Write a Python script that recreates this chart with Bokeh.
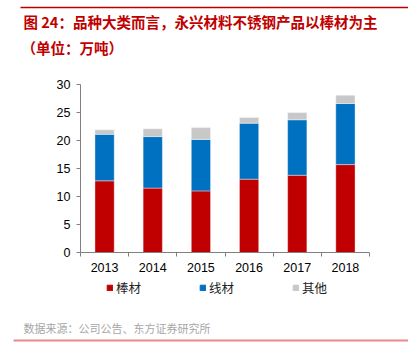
from bokeh.plotting import figure
from bokeh.layouts import column
from bokeh.models import (ColumnDataSource, FixedTicker, Legend, LegendItem, Range1d)
from bokeh.core.properties import value
from bokeh.embed import file_html
from bokeh.resources import INLINE

years = ["2013", "2014", "2015", "2016", "2017", "2018"]
bangcai = [12.8, 11.5, 11.0, 13.1, 13.8, 15.7]
xiancai = [8.3, 9.2, 9.2, 10.0, 9.9, 10.9]
qita = [0.8, 1.4, 2.1, 1.0, 1.3, 1.5]
series = ["棒材", "线材", "其他"]
colors = ["#C00000", "#0070C0", "#C8C8C8"]
yticks = [0, 5, 10, 15, 20, 25, 30]
title1 = "图 24：品种大类而言，永兴材料不锈钢产品以棒材为主"
title2 = "（单位：万吨）"
source_txt = "数据来源：公司公告、东方证券研究所"

W = 408
HEAD, MAIN = 60, 216
FOOT = 356 - HEAD - MAIN
FL, FR = 80, 369
FT, FB = 84 - HEAD, 252 - HEAD  # frame top/bottom inside main figure
FOOT0 = HEAD + MAIN
cjk = "Noto Sans CJK SC"
font = "Liberation Sans"


def blank(h):
    f = figure(width=W, height=h, output_backend="svg", toolbar_location=None,
               x_range=Range1d(0, W), y_range=Range1d(h, 0),
               x_axis_type=None, y_axis_type=None, frame_align=False,
               min_border_left=0, min_border_right=0,
               min_border_top=0, min_border_bottom=0)
    f.outline_line_color = None
    f.xgrid.grid_line_color = None
    f.ygrid.grid_line_color = None
    return f


# header
head = blank(HEAD)
head.segment(x0=[20], y0=[7], x1=[W], y1=[7], line_color="#C00000", line_width=1.5)
head.text(x=[23, 21], y=[21, 47], text=[title1, title2], text_font=value(cjk),
          text_font_size="14.5px", text_color="#C00000", text_font_style="bold",
          text_baseline="middle", text_align="left")

# main chart
xs = [i + 0.5 for i in range(len(years))]
src = ColumnDataSource(dict(x=xs, bangcai=bangcai, xiancai=xiancai, qita=qita))

p = figure(width=W, height=MAIN, output_backend="svg", toolbar_location=None,
           x_range=Range1d(0, len(years)), y_range=Range1d(0, 30), frame_align=False,
           min_border_left=FL, min_border_right=W - FR,
           min_border_top=FT, min_border_bottom=MAIN - FB)
p.outline_line_color = None
p.xgrid.grid_line_color = None
p.ygrid.grid_line_color = None

p.vbar_stack(["bangcai", "xiancai", "qita"], x="x", width=0.4, source=src,
             color=colors, line_color="white", line_width=0.4)

p.yaxis.ticker = FixedTicker(ticks=yticks)
p.yaxis.axis_line_color = "#808080"
p.yaxis.major_tick_line_color = "#808080"
p.yaxis.major_tick_out = 4
p.yaxis.major_tick_in = 0
p.yaxis.minor_tick_line_color = None
p.yaxis.major_label_text_font = font
p.yaxis.major_label_text_font_size = "12.5px"
p.yaxis.major_label_text_color = "black"
p.yaxis.major_label_standoff = 6

p.xaxis.ticker = FixedTicker(ticks=xs, minor_ticks=list(range(len(years) + 1)))
p.xaxis.major_label_overrides = {x: y for x, y in zip(xs, years)}
p.xaxis.axis_line_color = "#808080"
p.xaxis.major_tick_line_color = None
p.xaxis.minor_tick_line_color = "#808080"
p.xaxis.minor_tick_out = 4
p.xaxis.minor_tick_in = 0
p.xaxis.major_label_text_font = font
p.xaxis.major_label_text_font_size = "12.5px"
p.xaxis.major_label_text_color = "black"
p.xaxis.major_label_standoff = 4

# footer: legend, source, line
foot = blank(FOOT)
# hidden swatch renderers that only feed the legend
swatches = [foot.vbar(x=[0], top=[1], bottom=[0], width=1, color=c, visible=False)
            for c in colors]
legend = Legend(items=[LegendItem(label=s, renderers=[r]) for s, r in zip(series, swatches)],
                orientation="horizontal", location=(106, FOOT - (290 - FOOT0) - 7),
                glyph_width=7, glyph_height=7, label_standoff=3, spacing=58,
                padding=0, margin=0, border_line_color=None, background_fill_alpha=0,
                label_text_font=cjk, label_text_font_size="12.5px",
                label_text_color="#222222", label_height=14)
foot.add_layout(legend, "center")
foot.text(x=[23], y=[327 - FOOT0], text=[source_txt], text_font=value(cjk),
          text_font_size="11px", text_color="#A6A6A6",
          text_baseline="middle", text_align="left")
foot.segment(x0=[13], y0=[340 - FOOT0], x1=[W], y1=[340 - FOOT0],
             line_color="#E88A8A", line_width=2)

layout = column(head, p, foot, spacing=0)
open("out.html", "w").write(file_html(layout, INLINE))
